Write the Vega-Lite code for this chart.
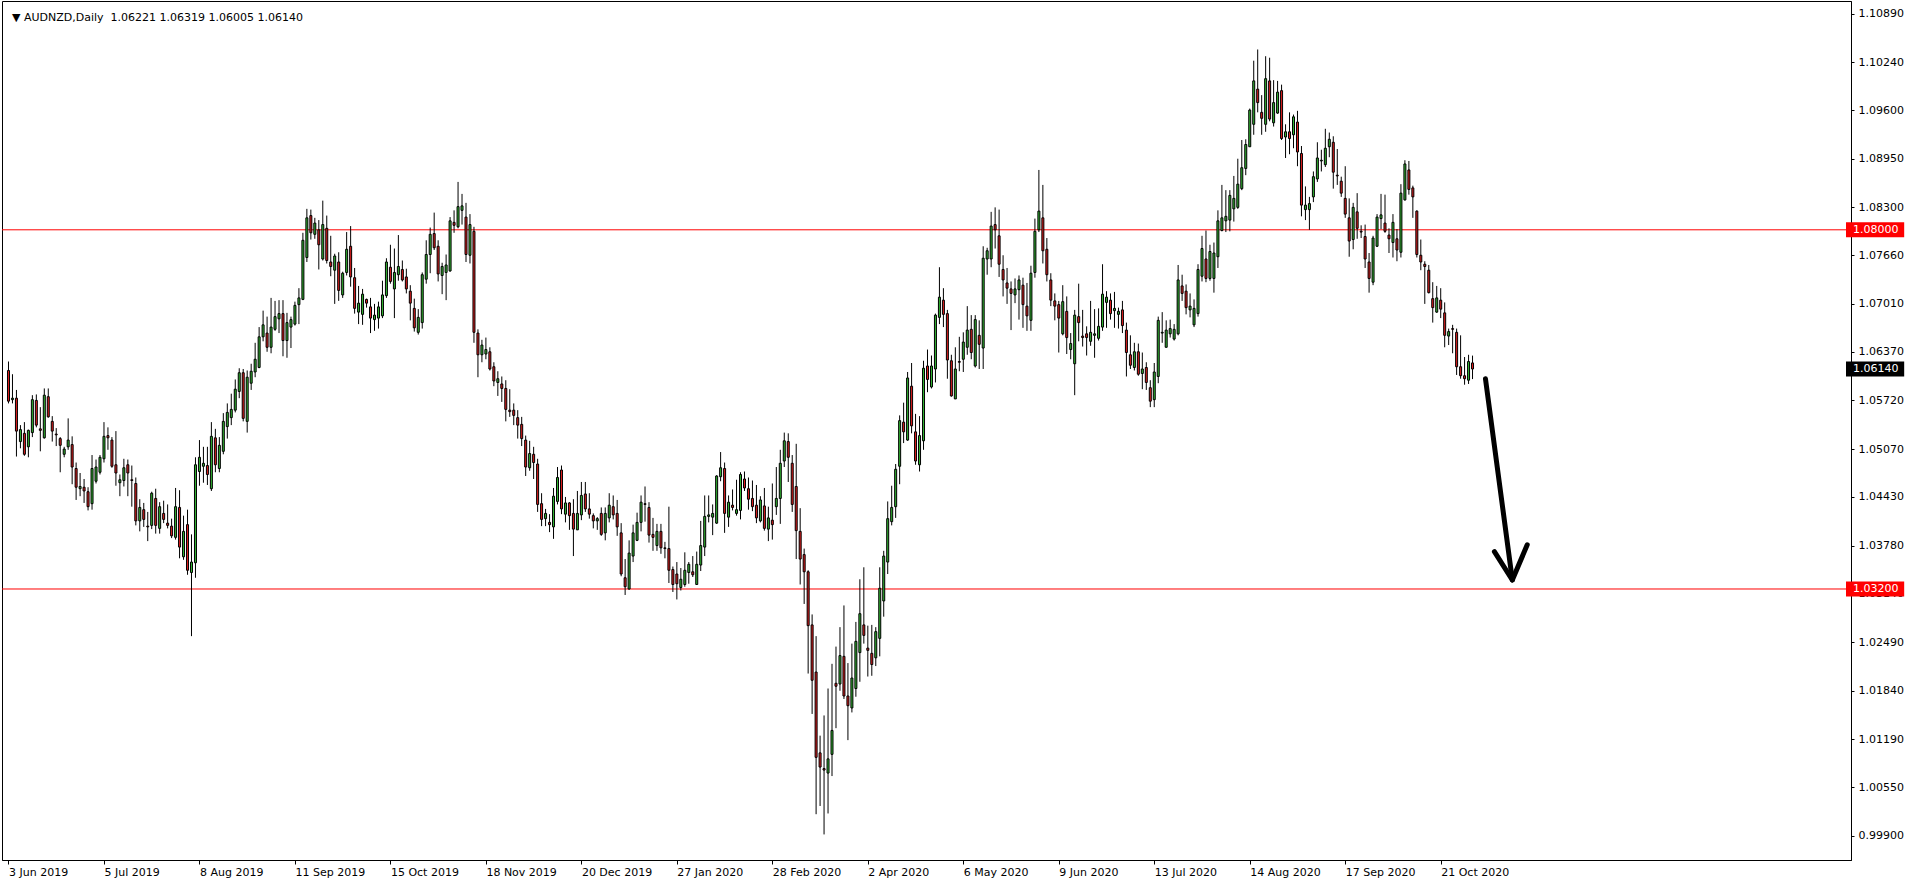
{
"$schema":"https://vega.github.io/schema/vega-lite/v6.json",
"width":1849,"height":859,
"autosize":{"type":"none"},
"padding":{"left":2,"top":1,"right":65,"bottom":24},
"background":"white",
"config":{"view":{"stroke":"black","strokeWidth":1},"font":"DejaVu Sans"},
"datasets":{
"candles":[
{"i":0,"o":1.0612,"h":1.0624,"l":1.0568,"c":1.0571},
{"i":1,"o":1.0573,"h":1.0607,"l":1.0568,"c":1.0575},
{"i":2,"o":1.0575,"h":1.0586,"l":1.0497,"c":1.0531},
{"i":3,"o":1.0517,"h":1.0539,"l":1.0508,"c":1.0533},
{"i":4,"o":1.0528,"h":1.0543,"l":1.0498,"c":1.0500},
{"i":5,"o":1.0510,"h":1.0533,"l":1.0496,"c":1.0532},
{"i":6,"o":1.0529,"h":1.0579,"l":1.0523,"c":1.0573},
{"i":7,"o":1.0572,"h":1.0580,"l":1.0536,"c":1.0539},
{"i":8,"o":1.0534,"h":1.0563,"l":1.0504,"c":1.0532},
{"i":9,"o":1.0522,"h":1.0588,"l":1.0521,"c":1.0579},
{"i":10,"o":1.0577,"h":1.0588,"l":1.0549,"c":1.0550},
{"i":11,"o":1.0544,"h":1.0551,"l":1.0517,"c":1.0531},
{"i":12,"o":1.0527,"h":1.0535,"l":1.0511,"c":1.0526},
{"i":13,"o":1.0521,"h":1.0523,"l":1.0476,"c":1.0512},
{"i":14,"o":1.0500,"h":1.0510,"l":1.0496,"c":1.0507},
{"i":15,"o":1.0510,"h":1.0548,"l":1.0506,"c":1.0519},
{"i":16,"o":1.0513,"h":1.0524,"l":1.0460,"c":1.0483},
{"i":17,"o":1.0481,"h":1.0489,"l":1.0439,"c":1.0456},
{"i":18,"o":1.0454,"h":1.0475,"l":1.0444,"c":1.0457},
{"i":19,"o":1.0456,"h":1.0467,"l":1.0435,"c":1.0451},
{"i":20,"o":1.0450,"h":1.0456,"l":1.0425,"c":1.0430},
{"i":21,"o":1.0434,"h":1.0499,"l":1.0426,"c":1.0481},
{"i":22,"o":1.0464,"h":1.0493,"l":1.0461,"c":1.0483},
{"i":23,"o":1.0476,"h":1.0499,"l":1.0473,"c":1.0496},
{"i":24,"o":1.0494,"h":1.0543,"l":1.0489,"c":1.0524},
{"i":25,"o":1.0525,"h":1.0536,"l":1.0506,"c":1.0522},
{"i":26,"o":1.0519,"h":1.0523,"l":1.0482,"c":1.0484},
{"i":27,"o":1.0486,"h":1.0531,"l":1.0458,"c":1.0475},
{"i":28,"o":1.0462,"h":1.0473,"l":1.0444,"c":1.0466},
{"i":29,"o":1.0465,"h":1.0494,"l":1.0457,"c":1.0482},
{"i":30,"o":1.0486,"h":1.0493,"l":1.0444,"c":1.0475},
{"i":31,"o":1.0466,"h":1.0485,"l":1.0430,"c":1.0465},
{"i":32,"o":1.0461,"h":1.0469,"l":1.0405,"c":1.0411},
{"i":33,"o":1.0411,"h":1.0440,"l":1.0397,"c":1.0429},
{"i":34,"o":1.0426,"h":1.0435,"l":1.0403,"c":1.0413},
{"i":35,"o":1.0404,"h":1.0423,"l":1.0384,"c":1.0403},
{"i":36,"o":1.0405,"h":1.0450,"l":1.0400,"c":1.0448},
{"i":37,"o":1.0441,"h":1.0454,"l":1.0394,"c":1.0405},
{"i":38,"o":1.0401,"h":1.0436,"l":1.0394,"c":1.0430},
{"i":39,"o":1.0421,"h":1.0438,"l":1.0408,"c":1.0413},
{"i":40,"o":1.0408,"h":1.0433,"l":1.0401,"c":1.0405},
{"i":41,"o":1.0404,"h":1.0414,"l":1.0388,"c":1.0391},
{"i":42,"o":1.0389,"h":1.0455,"l":1.0386,"c":1.0430},
{"i":43,"o":1.0429,"h":1.0452,"l":1.0361,"c":1.0376},
{"i":44,"o":1.0363,"h":1.0418,"l":1.0359,"c":1.0397},
{"i":45,"o":1.0406,"h":1.0426,"l":1.0339,"c":1.0345},
{"i":46,"o":1.0342,"h":1.0393,"l":1.0257,"c":1.0356},
{"i":47,"o":1.0355,"h":1.0496,"l":1.0335,"c":1.0486},
{"i":48,"o":1.0477,"h":1.0519,"l":1.0458,"c":1.0496},
{"i":49,"o":1.0484,"h":1.0510,"l":1.0462,"c":1.0488},
{"i":50,"o":1.0485,"h":1.0510,"l":1.0459,"c":1.0473},
{"i":51,"o":1.0454,"h":1.0543,"l":1.0451,"c":1.0524},
{"i":52,"o":1.0522,"h":1.0534,"l":1.0476,"c":1.0486},
{"i":53,"o":1.0481,"h":1.0523,"l":1.0476,"c":1.0512},
{"i":54,"o":1.0504,"h":1.0555,"l":1.0500,"c":1.0544},
{"i":55,"o":1.0537,"h":1.0568,"l":1.0521,"c":1.0556},
{"i":56,"o":1.0549,"h":1.0581,"l":1.0539,"c":1.0560},
{"i":57,"o":1.0559,"h":1.0600,"l":1.0556,"c":1.0587},
{"i":58,"o":1.0584,"h":1.0615,"l":1.0575,"c":1.0609},
{"i":59,"o":1.0609,"h":1.0614,"l":1.0544,"c":1.0548},
{"i":60,"o":1.0544,"h":1.0612,"l":1.0529,"c":1.0603},
{"i":61,"o":1.0595,"h":1.0621,"l":1.0586,"c":1.0611},
{"i":62,"o":1.0610,"h":1.0649,"l":1.0603,"c":1.0627},
{"i":63,"o":1.0616,"h":1.0670,"l":1.0615,"c":1.0657},
{"i":64,"o":1.0657,"h":1.0692,"l":1.0651,"c":1.0673},
{"i":65,"o":1.0662,"h":1.0684,"l":1.0637,"c":1.0643},
{"i":66,"o":1.0643,"h":1.0709,"l":1.0635,"c":1.0670},
{"i":67,"o":1.0667,"h":1.0705,"l":1.0665,"c":1.0684},
{"i":68,"o":1.0681,"h":1.0706,"l":1.0662,"c":1.0688},
{"i":69,"o":1.0688,"h":1.0706,"l":1.0631,"c":1.0652},
{"i":70,"o":1.0652,"h":1.0689,"l":1.0629,"c":1.0676},
{"i":71,"o":1.0670,"h":1.0684,"l":1.0642,"c":1.0680},
{"i":72,"o":1.0674,"h":1.0704,"l":1.0672,"c":1.0699},
{"i":73,"o":1.0700,"h":1.0722,"l":1.0674,"c":1.0709},
{"i":74,"o":1.0707,"h":1.0796,"l":1.0706,"c":1.0786},
{"i":75,"o":1.0763,"h":1.0828,"l":1.0757,"c":1.0816},
{"i":76,"o":1.0819,"h":1.0827,"l":1.0787,"c":1.0796},
{"i":77,"o":1.0794,"h":1.0816,"l":1.0788,"c":1.0809},
{"i":78,"o":1.0800,"h":1.0813,"l":1.0747,"c":1.0780},
{"i":79,"o":1.0761,"h":1.0839,"l":1.0759,"c":1.0807},
{"i":80,"o":1.0802,"h":1.0819,"l":1.0755,"c":1.0759},
{"i":81,"o":1.0757,"h":1.0792,"l":1.0738,"c":1.0751},
{"i":82,"o":1.0746,"h":1.0768,"l":1.0701,"c":1.0765},
{"i":83,"o":1.0757,"h":1.0770,"l":1.0705,"c":1.0719},
{"i":84,"o":1.0713,"h":1.0744,"l":1.0709,"c":1.0742},
{"i":85,"o":1.0743,"h":1.0797,"l":1.0739,"c":1.0774},
{"i":86,"o":1.0778,"h":1.0805,"l":1.0724,"c":1.0737},
{"i":87,"o":1.0736,"h":1.0749,"l":1.0688,"c":1.0695},
{"i":88,"o":1.0690,"h":1.0725,"l":1.0674,"c":1.0702},
{"i":89,"o":1.0687,"h":1.0721,"l":1.0673,"c":1.0714},
{"i":90,"o":1.0707,"h":1.0708,"l":1.0696,"c":1.0702},
{"i":91,"o":1.0697,"h":1.0709,"l":1.0662,"c":1.0682},
{"i":92,"o":1.0680,"h":1.0701,"l":1.0665,"c":1.0686},
{"i":93,"o":1.0682,"h":1.0704,"l":1.0668,"c":1.0697},
{"i":94,"o":1.0685,"h":1.0732,"l":1.0682,"c":1.0713},
{"i":95,"o":1.0712,"h":1.0762,"l":1.0709,"c":1.0757},
{"i":96,"o":1.0750,"h":1.0780,"l":1.0728,"c":1.0731},
{"i":97,"o":1.0721,"h":1.0775,"l":1.0682,"c":1.0743},
{"i":98,"o":1.0740,"h":1.0793,"l":1.0732,"c":1.0751},
{"i":99,"o":1.0747,"h":1.0759,"l":1.0731,"c":1.0733},
{"i":100,"o":1.0737,"h":1.0748,"l":1.0715,"c":1.0721},
{"i":101,"o":1.0718,"h":1.0726,"l":1.0679,"c":1.0702},
{"i":102,"o":1.0695,"h":1.0708,"l":1.0664,"c":1.0669},
{"i":103,"o":1.0663,"h":1.0694,"l":1.0660,"c":1.0683},
{"i":104,"o":1.0676,"h":1.0743,"l":1.0668,"c":1.0740},
{"i":105,"o":1.0734,"h":1.0786,"l":1.0728,"c":1.0767},
{"i":106,"o":1.0767,"h":1.0803,"l":1.0742,"c":1.0794},
{"i":107,"o":1.0795,"h":1.0823,"l":1.0773,"c":1.0776},
{"i":108,"o":1.0778,"h":1.0786,"l":1.0731,"c":1.0741},
{"i":109,"o":1.0739,"h":1.0756,"l":1.0714,"c":1.0751},
{"i":110,"o":1.0743,"h":1.0767,"l":1.0706,"c":1.0753},
{"i":111,"o":1.0745,"h":1.0817,"l":1.0744,"c":1.0812},
{"i":112,"o":1.0810,"h":1.0826,"l":1.0796,"c":1.0806},
{"i":113,"o":1.0804,"h":1.0864,"l":1.0802,"c":1.0831},
{"i":114,"o":1.0826,"h":1.0848,"l":1.0807,"c":1.0832},
{"i":115,"o":1.0817,"h":1.0836,"l":1.0757,"c":1.0767},
{"i":116,"o":1.0766,"h":1.0821,"l":1.0755,"c":1.0807},
{"i":117,"o":1.0798,"h":1.0804,"l":1.0649,"c":1.0663},
{"i":118,"o":1.0662,"h":1.0667,"l":1.0603,"c":1.0633},
{"i":119,"o":1.0633,"h":1.0653,"l":1.0623,"c":1.0646},
{"i":120,"o":1.0634,"h":1.0656,"l":1.0627,"c":1.0640},
{"i":121,"o":1.0637,"h":1.0643,"l":1.0612,"c":1.0614},
{"i":122,"o":1.0617,"h":1.0623,"l":1.0591,"c":1.0598},
{"i":123,"o":1.0596,"h":1.0611,"l":1.0578,"c":1.0601},
{"i":124,"o":1.0594,"h":1.0604,"l":1.0570,"c":1.0588},
{"i":125,"o":1.0588,"h":1.0599,"l":1.0544,"c":1.0560},
{"i":126,"o":1.0559,"h":1.0587,"l":1.0550,"c":1.0557},
{"i":127,"o":1.0559,"h":1.0568,"l":1.0539,"c":1.0552},
{"i":128,"o":1.0549,"h":1.0559,"l":1.0521,"c":1.0539},
{"i":129,"o":1.0540,"h":1.0550,"l":1.0511,"c":1.0521},
{"i":130,"o":1.0519,"h":1.0525,"l":1.0471,"c":1.0483},
{"i":131,"o":1.0482,"h":1.0518,"l":1.0478,"c":1.0501},
{"i":132,"o":1.0500,"h":1.0510,"l":1.0467,"c":1.0489},
{"i":133,"o":1.0487,"h":1.0494,"l":1.0423,"c":1.0433},
{"i":134,"o":1.0434,"h":1.0448,"l":1.0404,"c":1.0413},
{"i":135,"o":1.0414,"h":1.0427,"l":1.0404,"c":1.0421},
{"i":136,"o":1.0409,"h":1.0420,"l":1.0396,"c":1.0406},
{"i":137,"o":1.0403,"h":1.0455,"l":1.0387,"c":1.0444},
{"i":138,"o":1.0437,"h":1.0483,"l":1.0433,"c":1.0469},
{"i":139,"o":1.0479,"h":1.0485,"l":1.0420,"c":1.0427},
{"i":140,"o":1.0420,"h":1.0443,"l":1.0409,"c":1.0435},
{"i":141,"o":1.0435,"h":1.0436,"l":1.0399,"c":1.0418},
{"i":142,"o":1.0421,"h":1.0440,"l":1.0364,"c":1.0400},
{"i":143,"o":1.0399,"h":1.0451,"l":1.0399,"c":1.0421},
{"i":144,"o":1.0419,"h":1.0463,"l":1.0412,"c":1.0445},
{"i":145,"o":1.0447,"h":1.0463,"l":1.0423,"c":1.0427},
{"i":146,"o":1.0427,"h":1.0448,"l":1.0414,"c":1.0420},
{"i":147,"o":1.0418,"h":1.0421,"l":1.0401,"c":1.0411},
{"i":148,"o":1.0411,"h":1.0416,"l":1.0399,"c":1.0414},
{"i":149,"o":1.0421,"h":1.0429,"l":1.0391,"c":1.0393},
{"i":150,"o":1.0395,"h":1.0429,"l":1.0385,"c":1.0421},
{"i":151,"o":1.0415,"h":1.0448,"l":1.0409,"c":1.0432},
{"i":152,"o":1.0430,"h":1.0445,"l":1.0413,"c":1.0419},
{"i":153,"o":1.0421,"h":1.0439,"l":1.0391,"c":1.0403},
{"i":154,"o":1.0395,"h":1.0408,"l":1.0337,"c":1.0340},
{"i":155,"o":1.0335,"h":1.0360,"l":1.0312,"c":1.0323},
{"i":156,"o":1.0320,"h":1.0385,"l":1.0319,"c":1.0368},
{"i":157,"o":1.0364,"h":1.0406,"l":1.0356,"c":1.0395},
{"i":158,"o":1.0385,"h":1.0422,"l":1.0384,"c":1.0409},
{"i":159,"o":1.0409,"h":1.0445,"l":1.0397,"c":1.0436},
{"i":160,"o":1.0434,"h":1.0457,"l":1.0410,"c":1.0433},
{"i":161,"o":1.0429,"h":1.0436,"l":1.0382,"c":1.0392},
{"i":162,"o":1.0393,"h":1.0415,"l":1.0371,"c":1.0389},
{"i":163,"o":1.0378,"h":1.0407,"l":1.0371,"c":1.0397},
{"i":164,"o":1.0397,"h":1.0407,"l":1.0367,"c":1.0375},
{"i":165,"o":1.0375,"h":1.0383,"l":1.0361,"c":1.0374},
{"i":166,"o":1.0374,"h":1.0430,"l":1.0328,"c":1.0345},
{"i":167,"o":1.0346,"h":1.0350,"l":1.0316,"c":1.0326},
{"i":168,"o":1.0340,"h":1.0356,"l":1.0306,"c":1.0327},
{"i":169,"o":1.0322,"h":1.0348,"l":1.0318,"c":1.0333},
{"i":170,"o":1.0326,"h":1.0369,"l":1.0323,"c":1.0345},
{"i":171,"o":1.0342,"h":1.0356,"l":1.0327,"c":1.0353},
{"i":172,"o":1.0343,"h":1.0364,"l":1.0336,"c":1.0339},
{"i":173,"o":1.0326,"h":1.0370,"l":1.0326,"c":1.0353},
{"i":174,"o":1.0352,"h":1.0411,"l":1.0344,"c":1.0378},
{"i":175,"o":1.0376,"h":1.0445,"l":1.0364,"c":1.0417},
{"i":176,"o":1.0417,"h":1.0445,"l":1.0409,"c":1.0419},
{"i":177,"o":1.0416,"h":1.0433,"l":1.0392,"c":1.0421},
{"i":178,"o":1.0408,"h":1.0472,"l":1.0407,"c":1.0471},
{"i":179,"o":1.0470,"h":1.0503,"l":1.0464,"c":1.0482},
{"i":180,"o":1.0481,"h":1.0489,"l":1.0395,"c":1.0421},
{"i":181,"o":1.0416,"h":1.0445,"l":1.0403,"c":1.0436},
{"i":182,"o":1.0432,"h":1.0453,"l":1.0425,"c":1.0429},
{"i":183,"o":1.0421,"h":1.0466,"l":1.0418,"c":1.0426},
{"i":184,"o":1.0425,"h":1.0476,"l":1.0413,"c":1.0473},
{"i":185,"o":1.0467,"h":1.0477,"l":1.0451,"c":1.0455},
{"i":186,"o":1.0454,"h":1.0469,"l":1.0426,"c":1.0440},
{"i":187,"o":1.0441,"h":1.0465,"l":1.0424,"c":1.0430},
{"i":188,"o":1.0432,"h":1.0459,"l":1.0408,"c":1.0415},
{"i":189,"o":1.0411,"h":1.0444,"l":1.0409,"c":1.0439},
{"i":190,"o":1.0431,"h":1.0455,"l":1.0398,"c":1.0401},
{"i":191,"o":1.0400,"h":1.0430,"l":1.0384,"c":1.0415},
{"i":192,"o":1.0412,"h":1.0461,"l":1.0386,"c":1.0406},
{"i":193,"o":1.0430,"h":1.0483,"l":1.0419,"c":1.0441},
{"i":194,"o":1.0441,"h":1.0506,"l":1.0407,"c":1.0488},
{"i":195,"o":1.0491,"h":1.0529,"l":1.0483,"c":1.0518},
{"i":196,"o":1.0517,"h":1.0528,"l":1.0463,"c":1.0496},
{"i":197,"o":1.0488,"h":1.0499,"l":1.0423,"c":1.0433},
{"i":198,"o":1.0457,"h":1.0514,"l":1.0360,"c":1.0398},
{"i":199,"o":1.0397,"h":1.0428,"l":1.0326,"c":1.0360},
{"i":200,"o":1.0366,"h":1.0374,"l":1.0300,"c":1.0343},
{"i":201,"o":1.0343,"h":1.0345,"l":1.0207,"c":1.0271},
{"i":202,"o":1.0272,"h":1.0286,"l":1.0153,"c":1.0198},
{"i":203,"o":1.0209,"h":1.0257,"l":1.0019,"c":1.0095},
{"i":204,"o":1.0101,"h":1.0124,"l":1.0030,"c":1.0082},
{"i":205,"o":1.0080,"h":1.0151,"l":0.9992,"c":1.0078},
{"i":206,"o":1.0074,"h":1.0187,"l":1.0020,"c":1.0093},
{"i":207,"o":1.0099,"h":1.0220,"l":1.0070,"c":1.0131},
{"i":208,"o":1.0194,"h":1.0243,"l":1.0134,"c":1.0190},
{"i":209,"o":1.0193,"h":1.0269,"l":1.0184,"c":1.0231},
{"i":210,"o":1.0230,"h":1.0298,"l":1.0173,"c":1.0177},
{"i":211,"o":1.0177,"h":1.0221,"l":1.0118,"c":1.0164},
{"i":212,"o":1.0161,"h":1.0247,"l":1.0155,"c":1.0201},
{"i":213,"o":1.0187,"h":1.0276,"l":1.0176,"c":1.0250},
{"i":214,"o":1.0235,"h":1.0333,"l":1.0196,"c":1.0287},
{"i":215,"o":1.0272,"h":1.0349,"l":1.0247,"c":1.0258},
{"i":216,"o":1.0241,"h":1.0271,"l":1.0203,"c":1.0238},
{"i":217,"o":1.0234,"h":1.0272,"l":1.0204,"c":1.0219},
{"i":218,"o":1.0228,"h":1.0269,"l":1.0217,"c":1.0263},
{"i":219,"o":1.0254,"h":1.0349,"l":1.0230,"c":1.0321},
{"i":220,"o":1.0304,"h":1.0371,"l":1.0283,"c":1.0364},
{"i":221,"o":1.0356,"h":1.0437,"l":1.0340,"c":1.0414},
{"i":222,"o":1.0410,"h":1.0458,"l":1.0405,"c":1.0429},
{"i":223,"o":1.0430,"h":1.0487,"l":1.0415,"c":1.0480},
{"i":224,"o":1.0484,"h":1.0552,"l":1.0460,"c":1.0545},
{"i":225,"o":1.0543,"h":1.0569,"l":1.0515,"c":1.0530},
{"i":226,"o":1.0519,"h":1.0610,"l":1.0518,"c":1.0602},
{"i":227,"o":1.0591,"h":1.0622,"l":1.0528,"c":1.0538},
{"i":228,"o":1.0530,"h":1.0554,"l":1.0486,"c":1.0491},
{"i":229,"o":1.0486,"h":1.0551,"l":1.0477,"c":1.0525},
{"i":230,"o":1.0518,"h":1.0625,"l":1.0506,"c":1.0615},
{"i":231,"o":1.0618,"h":1.0640,"l":1.0583,"c":1.0600},
{"i":232,"o":1.0590,"h":1.0632,"l":1.0588,"c":1.0618},
{"i":233,"o":1.0614,"h":1.0688,"l":1.0596,"c":1.0686},
{"i":234,"o":1.0683,"h":1.0750,"l":1.0674,"c":1.0710},
{"i":235,"o":1.0706,"h":1.0722,"l":1.0670,"c":1.0687},
{"i":236,"o":1.0688,"h":1.0693,"l":1.0601,"c":1.0626},
{"i":237,"o":1.0625,"h":1.0633,"l":1.0577,"c":1.0578},
{"i":238,"o":1.0574,"h":1.0643,"l":1.0574,"c":1.0614},
{"i":239,"o":1.0624,"h":1.0657,"l":1.0611,"c":1.0623},
{"i":240,"o":1.0627,"h":1.0663,"l":1.0610,"c":1.0650},
{"i":241,"o":1.0643,"h":1.0698,"l":1.0633,"c":1.0666},
{"i":242,"o":1.0667,"h":1.0686,"l":1.0627,"c":1.0636},
{"i":243,"o":1.0618,"h":1.0686,"l":1.0616,"c":1.0680},
{"i":244,"o":1.0659,"h":1.0679,"l":1.0614,"c":1.0647},
{"i":245,"o":1.0642,"h":1.0778,"l":1.0614,"c":1.0762},
{"i":246,"o":1.0761,"h":1.0776,"l":1.0740,"c":1.0772},
{"i":247,"o":1.0761,"h":1.0824,"l":1.0750,"c":1.0805},
{"i":248,"o":1.0807,"h":1.0830,"l":1.0775,"c":1.0800},
{"i":249,"o":1.0792,"h":1.0827,"l":1.0737,"c":1.0754},
{"i":250,"o":1.0747,"h":1.0766,"l":1.0711,"c":1.0733},
{"i":251,"o":1.0729,"h":1.0749,"l":1.0701,"c":1.0722},
{"i":252,"o":1.0721,"h":1.0731,"l":1.0666,"c":1.0715},
{"i":253,"o":1.0713,"h":1.0735,"l":1.0702,"c":1.0721},
{"i":254,"o":1.0720,"h":1.0739,"l":1.0680,"c":1.0733},
{"i":255,"o":1.0726,"h":1.0736,"l":1.0669,"c":1.0700},
{"i":256,"o":1.0698,"h":1.0729,"l":1.0665,"c":1.0685},
{"i":257,"o":1.0679,"h":1.0752,"l":1.0665,"c":1.0742},
{"i":258,"o":1.0743,"h":1.0815,"l":1.0736,"c":1.0798},
{"i":259,"o":1.0800,"h":1.0880,"l":1.0797,"c":1.0825},
{"i":260,"o":1.0816,"h":1.0860,"l":1.0755,"c":1.0772},
{"i":261,"o":1.0774,"h":1.0789,"l":1.0731,"c":1.0740},
{"i":262,"o":1.0733,"h":1.0742,"l":1.0698,"c":1.0706},
{"i":263,"o":1.0705,"h":1.0715,"l":1.0679,"c":1.0698},
{"i":264,"o":1.0700,"h":1.0705,"l":1.0636,"c":1.0682},
{"i":265,"o":1.0661,"h":1.0726,"l":1.0659,"c":1.0704},
{"i":266,"o":1.0691,"h":1.0711,"l":1.0634,"c":1.0656},
{"i":267,"o":1.0640,"h":1.0662,"l":1.0627,"c":1.0648},
{"i":268,"o":1.0621,"h":1.0693,"l":1.0579,"c":1.0686},
{"i":269,"o":1.0684,"h":1.0728,"l":1.0651,"c":1.0676},
{"i":270,"o":1.0658,"h":1.0693,"l":1.0644,"c":1.0656},
{"i":271,"o":1.0661,"h":1.0671,"l":1.0632,"c":1.0656},
{"i":272,"o":1.0651,"h":1.0705,"l":1.0645,"c":1.0663},
{"i":273,"o":1.0659,"h":1.0694,"l":1.0629,"c":1.0661},
{"i":274,"o":1.0655,"h":1.0695,"l":1.0652,"c":1.0671},
{"i":275,"o":1.0670,"h":1.0754,"l":1.0665,"c":1.0714},
{"i":276,"o":1.0703,"h":1.0718,"l":1.0669,"c":1.0710},
{"i":277,"o":1.0706,"h":1.0715,"l":1.0680,"c":1.0688},
{"i":278,"o":1.0692,"h":1.0717,"l":1.0669,"c":1.0695},
{"i":279,"o":1.0687,"h":1.0696,"l":1.0668,"c":1.0691},
{"i":280,"o":1.0693,"h":1.0705,"l":1.0662,"c":1.0672},
{"i":281,"o":1.0666,"h":1.0676,"l":1.0604,"c":1.0636},
{"i":282,"o":1.0633,"h":1.0659,"l":1.0614,"c":1.0619},
{"i":283,"o":1.0616,"h":1.0649,"l":1.0612,"c":1.0637},
{"i":284,"o":1.0637,"h":1.0648,"l":1.0605,"c":1.0607},
{"i":285,"o":1.0608,"h":1.0636,"l":1.0587,"c":1.0614},
{"i":286,"o":1.0616,"h":1.0623,"l":1.0586,"c":1.0596},
{"i":287,"o":1.0589,"h":1.0599,"l":1.0563,"c":1.0571},
{"i":288,"o":1.0573,"h":1.0622,"l":1.0563,"c":1.0610},
{"i":289,"o":1.0604,"h":1.0684,"l":1.0595,"c":1.0679},
{"i":290,"o":1.0662,"h":1.0690,"l":1.0649,"c":1.0663},
{"i":291,"o":1.0643,"h":1.0679,"l":1.0643,"c":1.0666},
{"i":292,"o":1.0661,"h":1.0680,"l":1.0656,"c":1.0668},
{"i":293,"o":1.0654,"h":1.0674,"l":1.0652,"c":1.0667},
{"i":294,"o":1.0661,"h":1.0753,"l":1.0659,"c":1.0733},
{"i":295,"o":1.0725,"h":1.0740,"l":1.0705,"c":1.0715},
{"i":296,"o":1.0718,"h":1.0727,"l":1.0687,"c":1.0696},
{"i":297,"o":1.0693,"h":1.0715,"l":1.0683,"c":1.0698},
{"i":298,"o":1.0673,"h":1.0707,"l":1.0670,"c":1.0695},
{"i":299,"o":1.0688,"h":1.0754,"l":1.0684,"c":1.0747},
{"i":300,"o":1.0738,"h":1.0792,"l":1.0731,"c":1.0775},
{"i":301,"o":1.0761,"h":1.0799,"l":1.0730,"c":1.0735},
{"i":302,"o":1.0735,"h":1.0780,"l":1.0732,"c":1.0771},
{"i":303,"o":1.0735,"h":1.0783,"l":1.0716,"c":1.0769},
{"i":304,"o":1.0764,"h":1.0826,"l":1.0749,"c":1.0812},
{"i":305,"o":1.0799,"h":1.0860,"l":1.0798,"c":1.0816},
{"i":306,"o":1.0812,"h":1.0853,"l":1.0797,"c":1.0818},
{"i":307,"o":1.0813,"h":1.0853,"l":1.0798,"c":1.0846},
{"i":308,"o":1.0828,"h":1.0872,"l":1.0811,"c":1.0842},
{"i":309,"o":1.0830,"h":1.0895,"l":1.0828,"c":1.0861},
{"i":310,"o":1.0855,"h":1.0920,"l":1.0853,"c":1.0883},
{"i":311,"o":1.0882,"h":1.0921,"l":1.0873,"c":1.0914},
{"i":312,"o":1.0911,"h":1.0962,"l":1.0911,"c":1.0960},
{"i":313,"o":1.0941,"h":1.1026,"l":1.0927,"c":1.0999},
{"i":314,"o":1.0988,"h":1.1041,"l":1.0957,"c":1.0970},
{"i":315,"o":1.0957,"h":1.0980,"l":1.0927,"c":1.0949},
{"i":316,"o":1.0941,"h":1.1032,"l":1.0931,"c":1.1002},
{"i":317,"o":1.0999,"h":1.1030,"l":1.0945,"c":1.0948},
{"i":318,"o":1.0943,"h":1.1000,"l":1.0938,"c":1.0970},
{"i":319,"o":1.0956,"h":1.0999,"l":1.0955,"c":1.0984},
{"i":320,"o":1.0986,"h":1.0994,"l":1.0920,"c":1.0922},
{"i":321,"o":1.0924,"h":1.0941,"l":1.0896,"c":1.0931},
{"i":322,"o":1.0931,"h":1.0957,"l":1.0901,"c":1.0922},
{"i":323,"o":1.0927,"h":1.0954,"l":1.0909,"c":1.0951},
{"i":324,"o":1.0944,"h":1.0959,"l":1.0885,"c":1.0904},
{"i":325,"o":1.0902,"h":1.0912,"l":1.0818,"c":1.0833},
{"i":326,"o":1.0827,"h":1.0858,"l":1.0813,"c":1.0833},
{"i":327,"o":1.0827,"h":1.0844,"l":1.0800,"c":1.0835},
{"i":328,"o":1.0844,"h":1.0878,"l":1.0837,"c":1.0871},
{"i":329,"o":1.0868,"h":1.0917,"l":1.0864,"c":1.0896},
{"i":330,"o":1.0892,"h":1.0907,"l":1.0878,"c":1.0893},
{"i":331,"o":1.0887,"h":1.0935,"l":1.0884,"c":1.0909},
{"i":332,"o":1.0911,"h":1.0930,"l":1.0897,"c":1.0921},
{"i":333,"o":1.0917,"h":1.0925,"l":1.0855,"c":1.0877},
{"i":334,"o":1.0873,"h":1.0908,"l":1.0860,"c":1.0872},
{"i":335,"o":1.0865,"h":1.0871,"l":1.0844,"c":1.0849},
{"i":336,"o":1.0842,"h":1.0885,"l":1.0816,"c":1.0821},
{"i":337,"o":1.0816,"h":1.0842,"l":1.0764,"c":1.0785},
{"i":338,"o":1.0787,"h":1.0836,"l":1.0774,"c":1.0830},
{"i":339,"o":1.0824,"h":1.0849,"l":1.0788,"c":1.0802},
{"i":340,"o":1.0798,"h":1.0806,"l":1.0789,"c":1.0797},
{"i":341,"o":1.0791,"h":1.0807,"l":1.0749,"c":1.0761},
{"i":342,"o":1.0757,"h":1.0769,"l":1.0716,"c":1.0735},
{"i":343,"o":1.0730,"h":1.0792,"l":1.0726,"c":1.0789},
{"i":344,"o":1.0778,"h":1.0821,"l":1.0777,"c":1.0817},
{"i":345,"o":1.0815,"h":1.0848,"l":1.0801,"c":1.0820},
{"i":346,"o":1.0809,"h":1.0847,"l":1.0796,"c":1.0798},
{"i":347,"o":1.0793,"h":1.0802,"l":1.0769,"c":1.0788},
{"i":348,"o":1.0783,"h":1.0821,"l":1.0763,"c":1.0810},
{"i":349,"o":1.0788,"h":1.0801,"l":1.0758,"c":1.0773},
{"i":350,"o":1.0770,"h":1.0861,"l":1.0763,"c":1.0849},
{"i":351,"o":1.0840,"h":1.0893,"l":1.0839,"c":1.0888},
{"i":352,"o":1.0880,"h":1.0892,"l":1.0847,"c":1.0854},
{"i":353,"o":1.0856,"h":1.0859,"l":1.0816,"c":1.0844},
{"i":354,"o":1.0825,"h":1.0826,"l":1.0763,"c":1.0767},
{"i":355,"o":1.0766,"h":1.0787,"l":1.0746,"c":1.0757},
{"i":356,"o":1.0754,"h":1.0758,"l":1.0701,"c":1.0751},
{"i":357,"o":1.0746,"h":1.0753,"l":1.0715,"c":1.0716},
{"i":358,"o":1.0708,"h":1.0730,"l":1.0676,"c":1.0696},
{"i":359,"o":1.0690,"h":1.0725,"l":1.0689,"c":1.0709},
{"i":360,"o":1.0706,"h":1.0722,"l":1.0682,"c":1.0694},
{"i":361,"o":1.0689,"h":1.0703,"l":1.0643,"c":1.0659},
{"i":362,"o":1.0658,"h":1.0668,"l":1.0646,"c":1.0664},
{"i":363,"o":1.0668,"h":1.0673,"l":1.0635,"c":1.0667},
{"i":364,"o":1.0663,"h":1.0668,"l":1.0606,"c":1.0617},
{"i":365,"o":1.0617,"h":1.0659,"l":1.0601,"c":1.0605},
{"i":366,"o":1.0605,"h":1.0630,"l":1.0593,"c":1.0601},
{"i":367,"o":1.0599,"h":1.0633,"l":1.0594,"c":1.0624},
{"i":368,"o":1.06221,"h":1.06319,"l":1.06005,"c":1.06140}
],
"levels":[{"p":1.08},{"p":1.032}],
"boxes":[{"p":1.08,"lab":"1.08000","kind":"level"},{"p":1.032,"lab":"1.03200","kind":"level"},{"p":1.0614,"lab":"1.06140","kind":"price"}],
"arrow":[
{"seg":"shaft","k":0,"x":371.25,"y":1.0601},{"seg":"shaft","k":1,"x":378,"y":1.0332},
{"seg":"head","k":0,"x":373.5,"y":1.0370},{"seg":"head","k":1,"x":378,"y":1.0332},{"seg":"head","k":2,"x":381.75,"y":1.0379}
],
"title":[{"t":"\u25BC AUDNZD,Daily\u00A0 1.06221 1.06319 1.06005 1.06140"}]
},
"layer":[
{"data":{"name":"levels"},"mark":{"type":"rule","color":"#FF0000","strokeWidth":1},
 "encoding":{"y":{"field":"p","type":"quantitative","scale":{"domain":[0.99645,1.10991],"nice":false,"zero":false},
  "axis":{"orient":"right","title":null,"values":[1.1089,1.1024,1.096,1.0895,1.083,1.0766,1.0701,1.0637,1.0572,1.0507,1.0443,1.0378,1.0314,1.0249,1.0184,1.0119,1.0055,0.999],
   "format":".5f","labelFont":"DejaVu Sans","labelFontSize":11,"labelColor":"#000000","tickColor":"#000000","tickSize":3,"labelPadding":4,"domainColor":"#000000","grid":false,"labelBaseline":"middle","labelOverlap":false,"labelFlush":false,"zindex":0}}}},
{"data":{"name":"candles"},"mark":{"type":"rule","color":"#000000","strokeWidth":1},
 "encoding":{"x":{"field":"i","type":"quantitative","scale":{"domain":[-0.375,461.875],"nice":false,"zero":false},
  "axis":{"orient":"bottom","title":null,"values":[0,24,48,72,96,120,144,168,192,216,240,264,288,312,336,360],
   "labelExpr":"['3 Jun 2019','5 Jul 2019','8 Aug 2019','11 Sep 2019','15 Oct 2019','18 Nov 2019','20 Dec 2019','27 Jan 2020','28 Feb 2020','2 Apr 2020','6 May 2020','9 Jun 2020','13 Jul 2020','14 Aug 2020','17 Sep 2020','21 Oct 2020'][round(datum.value/24)]",
   "labelAlign":"left","labelFont":"DejaVu Sans","labelFontSize":11,"labelColor":"#000000","tickColor":"#000000","tickSize":4,"labelPadding":2,"domainColor":"#000000","grid":false,"labelOverlap":false,"labelFlush":false,"zindex":0}},
  "y":{"field":"l","type":"quantitative","scale":{"domain":[0.99645,1.10991],"nice":false,"zero":false}},
  "y2":{"field":"h"}}},
{"data":{"name":"candles"},"mark":{"type":"bar","size":2,"orient":"vertical","stroke":"#000000","strokeWidth":1},
 "encoding":{"x":{"field":"i","type":"quantitative","scale":{"domain":[-0.375,461.875],"nice":false,"zero":false}},
  "y":{"field":"o","type":"quantitative","scale":{"domain":[0.99645,1.10991],"nice":false,"zero":false}},
  "y2":{"field":"c"},
  "fill":{"condition":{"test":"datum.c >= datum.o","value":"#32B432"},"value":"#DC1E1E"}}},
{"data":{"name":"arrow"},"mark":{"type":"line","color":"#000000","strokeWidth":5,"strokeCap":"round","strokeJoin":"round"},
 "encoding":{"x":{"field":"x","type":"quantitative","scale":{"domain":[-0.375,461.875],"nice":false,"zero":false}},
  "y":{"field":"y","type":"quantitative","scale":{"domain":[0.99645,1.10991],"nice":false,"zero":false}},
  "detail":{"field":"seg"},"order":{"field":"k","type":"quantitative"}}},
{"data":{"name":"title"},"mark":{"type":"text","align":"left","baseline":"middle","dx":5,"dy":12,"fontSize":11,"font":"DejaVu Sans","color":"#000000"},
 "encoding":{"x":{"datum":-0.375},"y":{"datum":1.10991},"text":{"field":"t"}}},
{"data":{"name":"boxes"},"mark":{"type":"bar","orient":"horizontal","size":15,"clip":false},
 "encoding":{"x":{"datum":461.875},"x2":{"datum":476.5},"y":{"field":"p","type":"quantitative"},
  "color":{"field":"kind","type":"nominal","scale":{"domain":["level","price"],"range":["#FF0000","#000000"]},"legend":null}}},
{"data":{"name":"boxes"},"mark":{"type":"text","align":"left","baseline":"middle","dx":7,"fontSize":11,"font":"DejaVu Sans","color":"#FFFFFF","clip":false},
 "encoding":{"x":{"datum":461.875},"y":{"field":"p","type":"quantitative"},"text":{"field":"lab"}}}
]
}
